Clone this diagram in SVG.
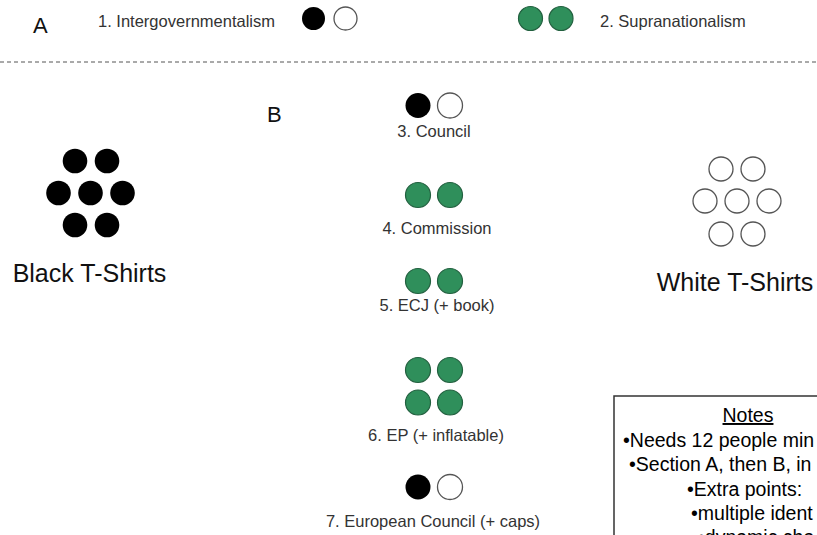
<svg xmlns="http://www.w3.org/2000/svg" width="817" height="535" viewBox="0 0 817 535">
<style>
  text { font-family: "Liberation Sans", Arial, sans-serif; }
  .sec { font-size: 22px; fill: #111; }
  .lbl { font-size: 16.5px; fill: #333; }
  .big { font-size: 25px; fill: #111; }
  .note { font-size: 19.5px; fill: #000; }
  .blk { fill: #000; }
  .wht { fill: #fff; stroke: #555; stroke-width: 1.3; }
  .grn { fill: #2f8f5b; stroke: #22603f; stroke-width: 1.2; }
</style>
<rect width="817" height="535" fill="#fff"/>

<g id="separator">
  <line x1="0" y1="62" x2="817" y2="62" stroke="#555" stroke-width="1" stroke-dasharray="4 3"/>
</g>

<g id="section-a">
  <text class="sec" x="33" y="33">A</text>
</g>

<g id="intergovernmentalism">
  <text class="lbl" x="98" y="27">1. Intergovernmentalism</text>
  <circle class="blk" cx="313.5" cy="18.5" r="11.5"/>
  <circle class="wht" cx="345.5" cy="18.5" r="11.5"/>
</g>

<g id="supranationalism">
  <circle class="grn" cx="530.5" cy="18.5" r="12"/>
  <circle class="grn" cx="561" cy="18.5" r="12"/>
  <text class="lbl" x="600" y="27">2. Supranationalism</text>
</g>

<g id="section-b">
  <text class="sec" x="267" y="122">B</text>
</g>

<g id="black-tshirts">
  <circle class="blk" cx="75" cy="161" r="12.3"/>
  <circle class="blk" cx="107" cy="161" r="12.3"/>
  <circle class="blk" cx="58.5" cy="193" r="12.3"/>
  <circle class="blk" cx="90.5" cy="193" r="12.3"/>
  <circle class="blk" cx="122.5" cy="193" r="12.3"/>
  <circle class="blk" cx="75" cy="225" r="12.3"/>
  <circle class="blk" cx="107" cy="225" r="12.3"/>
  <text class="big" x="89.5" y="282" text-anchor="middle">Black T-Shirts</text>
</g>

<g id="white-tshirts">
  <circle class="wht" cx="721" cy="169" r="12"/>
  <circle class="wht" cx="753" cy="169" r="12"/>
  <circle class="wht" cx="705" cy="201" r="12"/>
  <circle class="wht" cx="737" cy="201" r="12"/>
  <circle class="wht" cx="769" cy="201" r="12"/>
  <circle class="wht" cx="721" cy="234" r="12"/>
  <circle class="wht" cx="753" cy="234" r="12"/>
  <text class="big" x="735" y="291" text-anchor="middle">White T-Shirts</text>
</g>

<g id="council">
  <circle class="blk" cx="418" cy="105.5" r="12.5"/>
  <circle class="wht" cx="450" cy="105.5" r="12.5"/>
  <text class="lbl" x="434" y="137" text-anchor="middle">3. Council</text>
</g>

<g id="commission">
  <circle class="grn" cx="418" cy="195" r="12.5"/>
  <circle class="grn" cx="450" cy="195" r="12.5"/>
  <text class="lbl" x="437" y="234" text-anchor="middle">4. Commission</text>
</g>

<g id="ecj">
  <circle class="grn" cx="418" cy="281" r="12.5"/>
  <circle class="grn" cx="450" cy="281" r="12.5"/>
  <text class="lbl" x="437" y="311" text-anchor="middle">5. ECJ (+ book)</text>
</g>

<g id="ep">
  <circle class="grn" cx="418" cy="370" r="12.5"/>
  <circle class="grn" cx="450" cy="370" r="12.5"/>
  <circle class="grn" cx="418" cy="402.5" r="12.5"/>
  <circle class="grn" cx="450" cy="402.5" r="12.5"/>
  <text class="lbl" x="436" y="441" text-anchor="middle">6. EP (+ inflatable)</text>
</g>

<g id="european-council">
  <circle class="blk" cx="418" cy="487" r="12.5"/>
  <circle class="wht" cx="450" cy="487" r="12.5"/>
  <text class="lbl" x="433" y="527" text-anchor="middle">7. European Council (+ caps)</text>
</g>

<g id="notes">
  <rect x="614" y="396" width="240" height="170" fill="#fff" stroke="#333" stroke-width="1.5"/>
  <text class="note" x="748" y="422" text-anchor="middle" text-decoration="underline">Notes</text>
  <text class="note" x="623" y="447">•Needs 12 people min</text>
  <text class="note" x="629" y="471">•Section A, then B, in</text>
  <text class="note" x="687" y="496">•Extra points:</text>
  <text class="note" x="691" y="520">•multiple ident</text>
  <text class="note" x="698" y="544">•dynamic cha</text>
</g>
</svg>
